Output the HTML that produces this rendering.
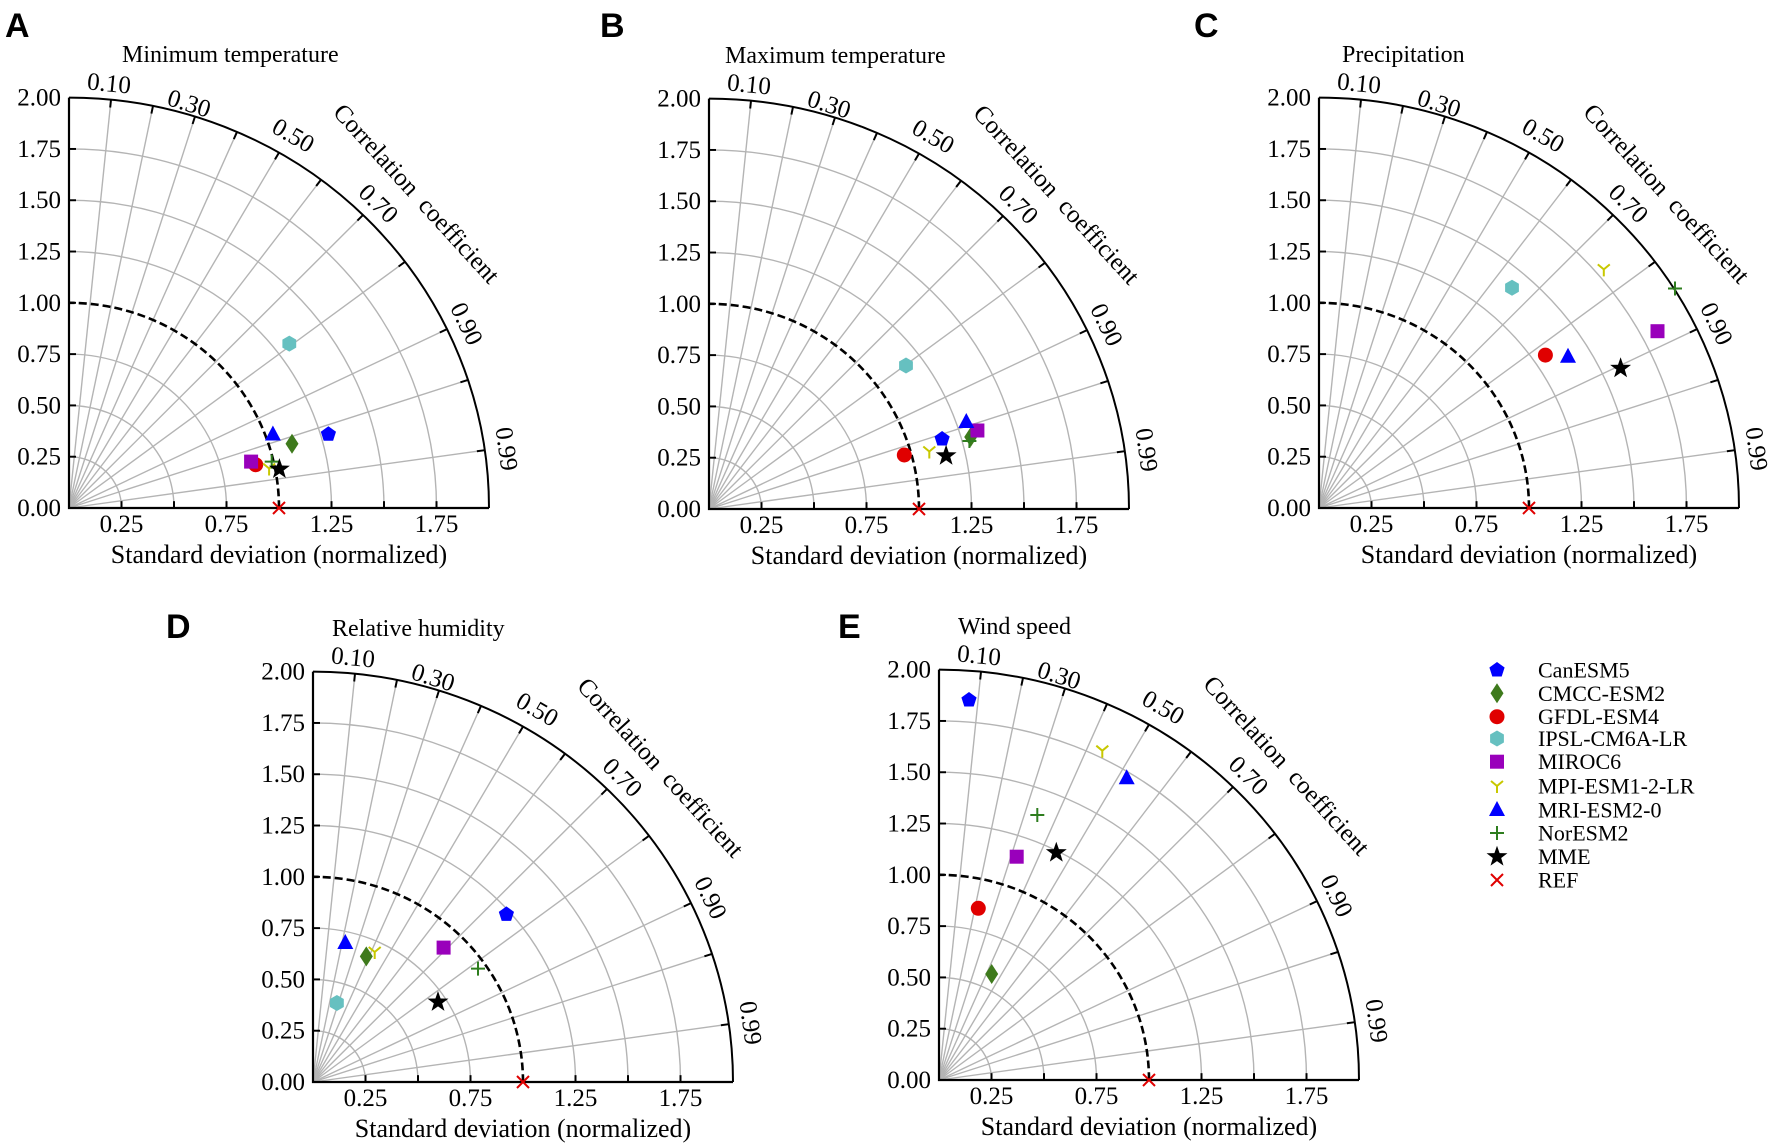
<!DOCTYPE html>
<html><head><meta charset="utf-8"><style>
html,body{margin:0;padding:0;background:#fff}
svg{display:block}
text{font-family:"Liberation Serif",serif;fill:#000}
.t{font-size:24px}
.yl{font-size:25px;text-anchor:end}
.xl{font-size:25px;text-anchor:middle}
.xt{font-size:26px;text-anchor:middle}
.cl{font-size:25px;text-anchor:middle;dominant-baseline:central}
.lt{font-family:"Liberation Sans",sans-serif;font-weight:bold;font-size:34px}
.lg{font-size:22px;dominant-baseline:central}
</style></head><body>
<svg width="1772" height="1146" viewBox="0 0 1772 1146" xmlns="http://www.w3.org/2000/svg">
<defs>
<g id="grid0" fill="none">
 <g stroke="#b4b4b4" stroke-width="1.4">
  <path d="M52.5,0 A52.5,52.5 0 0 0 0,-52.5"/>
  <path d="M105,0 A105,105 0 0 0 0,-105"/>
  <path d="M157.5,0 A157.5,157.5 0 0 0 0,-157.5"/>
  <path d="M262.5,0 A262.5,262.5 0 0 0 0,-262.5"/>
  <path d="M315,0 A315,315 0 0 0 0,-315"/>
  <path d="M367.5,0 A367.5,367.5 0 0 0 0,-367.5"/>
  <line x1="0" y1="0" x2="42" y2="-417.9"/>
  <line x1="0" y1="0" x2="84" y2="-411.5"/>
  <line x1="0" y1="0" x2="126" y2="-400.7"/>
  <line x1="0" y1="0" x2="168" y2="-384.9"/>
  <line x1="0" y1="0" x2="210" y2="-363.7"/>
  <line x1="0" y1="0" x2="252" y2="-336"/>
  <line x1="0" y1="0" x2="294" y2="-299.9"/>
  <line x1="0" y1="0" x2="336" y2="-252"/>
  <line x1="0" y1="0" x2="378" y2="-183.1"/>
  <line x1="0" y1="0" x2="399" y2="-131.1"/>
  <line x1="0" y1="0" x2="415.8" y2="-59.2"/>
 </g>
 <g stroke="#000" stroke-width="2" stroke-dasharray="0,412,10">
  <line x1="0" y1="0" x2="42" y2="-417.9"/>
  <line x1="0" y1="0" x2="84" y2="-411.5"/>
  <line x1="0" y1="0" x2="126" y2="-400.7"/>
  <line x1="0" y1="0" x2="168" y2="-384.9"/>
  <line x1="0" y1="0" x2="210" y2="-363.7"/>
  <line x1="0" y1="0" x2="252" y2="-336"/>
  <line x1="0" y1="0" x2="294" y2="-299.9"/>
  <line x1="0" y1="0" x2="336" y2="-252"/>
  <line x1="0" y1="0" x2="378" y2="-183.1"/>
  <line x1="0" y1="0" x2="399" y2="-131.1"/>
  <line x1="0" y1="0" x2="415.8" y2="-59.2"/>
 </g>
 <path d="M210,0 A210,210 0 0 0 0,-210" stroke="#000" stroke-width="2.6" stroke-dasharray="8,4"/>
 <path d="M420,0 A420,420 0 0 0 0,-420" stroke="#000" stroke-width="2"/>
 <path d="M0,-420 L0,0 L420,0" stroke="#000" stroke-width="2.2"/>
 <g stroke="#000" stroke-width="2">
  <line x1="0" y1="-52.5" x2="7" y2="-52.5"/><line x1="0" y1="-105" x2="7" y2="-105"/>
  <line x1="0" y1="-157.5" x2="7" y2="-157.5"/><line x1="0" y1="-210" x2="7" y2="-210"/>
  <line x1="0" y1="-262.5" x2="7" y2="-262.5"/><line x1="0" y1="-315" x2="7" y2="-315"/>
  <line x1="0" y1="-367.5" x2="7" y2="-367.5"/>
  <line x1="52.5" y1="0" x2="52.5" y2="-7"/><line x1="105" y1="0" x2="105" y2="-7"/>
  <line x1="157.5" y1="0" x2="157.5" y2="-7"/><line x1="210" y1="0" x2="210" y2="-7"/>
  <line x1="262.5" y1="0" x2="262.5" y2="-7"/><line x1="315" y1="0" x2="315" y2="-7"/>
  <line x1="367.5" y1="0" x2="367.5" y2="-7"/>
 </g>
</g>
<g id="grid"><use href="#grid0" transform="scale(1,0.977)"/></g>
<g id="corr">
<text class="cl" transform="translate(40,-424) rotate(5.7)">0.10</text>
<text class="cl" transform="translate(120,-404) rotate(17.5)">0.30</text>
<text class="cl" transform="translate(224,-372) rotate(30)">0.50</text>
<text class="cl" transform="translate(309,-304) rotate(44.4)">0.70</text>
<text class="cl" transform="translate(397,-184) rotate(64.2)">0.90</text>
<text class="cl" transform="translate(437,-59) rotate(81.9)">0.99</text>
</g>
<polygon id="can" points="0,-8 7.6,-2.5 4.7,6.5 -4.7,6.5 -7.6,-2.5" fill="#0000ff"/>
<polygon id="cmcc" points="0,-10 6.5,0 0,10 -6.5,0" fill="#3e7a1c"/>
<circle id="gfdl" r="7.5" fill="#e00000"/>
<polygon id="ipsl" points="0,-8 6.9,-4 6.9,4 0,8 -6.9,4 -6.9,-4" fill="#66c0c0"/>
<rect id="miroc" x="-7" y="-7" width="14" height="14" fill="#9900bb"/>
<g id="mpi" stroke="#c8c800" stroke-width="2" fill="none"><path d="M0,0 L0,7 M0,0 L-6,-5 M0,0 L6,-5"/></g>
<polygon id="mri" points="0,-9 8,6 -8,6" fill="#0000ff"/>
<g id="nor" stroke="#2e7d1e" stroke-width="2"><path d="M-7,0 H7 M0,-7 V7"/></g>
<polygon id="mme" points="0,-11 2.59,-3.56 10.46,-3.4 4.18,1.36 6.47,8.9 0,4.4 -6.47,8.9 -4.18,1.36 -10.46,-3.4 -2.59,-3.56" fill="#000"/>
<g id="ref" stroke="#e00000" stroke-width="2"><path d="M-6,-6 L6,6 M-6,6 L6,-6"/></g>
</defs>

<text class="lt" x="5" y="37">A</text>
<text class="lt" x="600" y="37">B</text>
<text class="lt" x="1194" y="37">C</text>
<text class="lt" x="166" y="638">D</text>
<text class="lt" x="838" y="638">E</text>

<!-- Panel A -->
<g transform="translate(69,508)">
<use href="#grid"/>
<text class="t" x="53" y="-446">Minimum temperature</text>
<text class="yl" x="-8" y="8">0.00</text><text class="yl" x="-8" y="-43.3">0.25</text><text class="yl" x="-8" y="-94.6">0.50</text><text class="yl" x="-8" y="-145.9">0.75</text><text class="yl" x="-8" y="-197.2">1.00</text><text class="yl" x="-8" y="-248.5">1.25</text><text class="yl" x="-8" y="-299.8">1.50</text><text class="yl" x="-8" y="-351.1">1.75</text><text class="yl" x="-8" y="-402.4">2.00</text>
<text class="xl" x="52.5" y="24">0.25</text><text class="xl" x="157.5" y="24">0.75</text><text class="xl" x="262.5" y="24">1.25</text><text class="xl" x="367.5" y="24">1.75</text>
<text class="xt" x="210" y="55">Standard deviation (normalized)</text>
<text class="cl" transform="translate(40,-424) rotate(5.7)">0.10</text>
<text class="cl" transform="translate(120,-404) rotate(17.5)">0.30</text>
<text class="cl" transform="translate(224,-372) rotate(30)">0.50</text>
<text class="cl" transform="translate(309,-304) rotate(44.4)">0.70</text>
<text class="cl" transform="translate(397,-184) rotate(64.2)">0.90</text>
<text class="cl" transform="translate(437,-59) rotate(81.9)">0.99</text>
<text class="cl" xml:space="preserve" transform="translate(347,-314) rotate(47.6)">Correlation  coefficient</text>
<use href="#can" x="259.4" y="-73.7"/><use href="#cmcc" x="223" y="-64.3"/><use href="#gfdl" x="186.7" y="-43.3"/><use href="#ipsl" x="220.3" y="-164.4"/><use href="#miroc" x="182.1" y="-46.4"/><use href="#mpi" x="200.1" y="-39.5"/><use href="#mri" x="203.9" y="-73.5"/><use href="#nor" x="202.7" y="-46.4"/><use href="#mme" x="210.4" y="-38.9"/><use href="#ref" x="210" y="0"/>
</g>

<!-- Panel B -->
<g transform="translate(709,509)">
<use href="#grid"/>
<text class="t" x="16" y="-446">Maximum temperature</text>
<text class="yl" x="-8" y="8">0.00</text><text class="yl" x="-8" y="-43.3">0.25</text><text class="yl" x="-8" y="-94.6">0.50</text><text class="yl" x="-8" y="-145.9">0.75</text><text class="yl" x="-8" y="-197.2">1.00</text><text class="yl" x="-8" y="-248.5">1.25</text><text class="yl" x="-8" y="-299.8">1.50</text><text class="yl" x="-8" y="-351.1">1.75</text><text class="yl" x="-8" y="-402.4">2.00</text>
<text class="xl" x="52.5" y="24">0.25</text><text class="xl" x="157.5" y="24">0.75</text><text class="xl" x="262.5" y="24">1.25</text><text class="xl" x="367.5" y="24">1.75</text>
<text class="xt" x="210" y="55">Standard deviation (normalized)</text>
<text class="cl" transform="translate(40,-424) rotate(5.7)">0.10</text>
<text class="cl" transform="translate(120,-404) rotate(17.5)">0.30</text>
<text class="cl" transform="translate(224,-372) rotate(30)">0.50</text>
<text class="cl" transform="translate(309,-304) rotate(44.4)">0.70</text>
<text class="cl" transform="translate(397,-184) rotate(64.2)">0.90</text>
<text class="cl" transform="translate(437,-59) rotate(81.9)">0.99</text>
<text class="cl" xml:space="preserve" transform="translate(347,-314) rotate(47.6)">Correlation  coefficient</text>
<use href="#can" x="233.1" y="-70"/><use href="#cmcc" x="261.7" y="-72"/><use href="#gfdl" x="195.3" y="-54"/><use href="#ipsl" x="197" y="-143.5"/><use href="#miroc" x="268.4" y="-78.5"/><use href="#mpi" x="220.3" y="-57.5"/><use href="#mri" x="257.3" y="-87"/><use href="#nor" x="260.4" y="-68"/><use href="#mme" x="237.1" y="-53.2"/><use href="#ref" x="210" y="0"/>
</g>

<!-- Panel C -->
<g transform="translate(1319,508)">
<use href="#grid"/>
<text class="t" x="23" y="-446">Precipitation</text>
<text class="yl" x="-8" y="8">0.00</text><text class="yl" x="-8" y="-43.3">0.25</text><text class="yl" x="-8" y="-94.6">0.50</text><text class="yl" x="-8" y="-145.9">0.75</text><text class="yl" x="-8" y="-197.2">1.00</text><text class="yl" x="-8" y="-248.5">1.25</text><text class="yl" x="-8" y="-299.8">1.50</text><text class="yl" x="-8" y="-351.1">1.75</text><text class="yl" x="-8" y="-402.4">2.00</text>
<text class="xl" x="52.5" y="24">0.25</text><text class="xl" x="157.5" y="24">0.75</text><text class="xl" x="262.5" y="24">1.25</text><text class="xl" x="367.5" y="24">1.75</text>
<text class="xt" x="210" y="55">Standard deviation (normalized)</text>
<text class="cl" transform="translate(40,-424) rotate(5.7)">0.10</text>
<text class="cl" transform="translate(120,-404) rotate(17.5)">0.30</text>
<text class="cl" transform="translate(224,-372) rotate(30)">0.50</text>
<text class="cl" transform="translate(309,-304) rotate(44.4)">0.70</text>
<text class="cl" transform="translate(397,-184) rotate(64.2)">0.90</text>
<text class="cl" transform="translate(437,-59) rotate(81.9)">0.99</text>
<text class="cl" xml:space="preserve" transform="translate(347,-314) rotate(47.6)">Correlation  coefficient</text>
<use href="#gfdl" x="226.4" y="-152.9"/><use href="#ipsl" x="193" y="-220.3"/><use href="#miroc" x="338.5" y="-176.8"/><use href="#mpi" x="284.8" y="-238.6"/><use href="#mri" x="249" y="-151.2"/><use href="#nor" x="356" y="-219.5"/><use href="#mme" x="301.6" y="-139.7"/><use href="#ref" x="210" y="0"/>
</g>

<!-- Panel D -->
<g transform="translate(313,1082)">
<use href="#grid"/>
<text class="t" x="19" y="-446">Relative humidity</text>
<text class="yl" x="-8" y="8">0.00</text><text class="yl" x="-8" y="-43.3">0.25</text><text class="yl" x="-8" y="-94.6">0.50</text><text class="yl" x="-8" y="-145.9">0.75</text><text class="yl" x="-8" y="-197.2">1.00</text><text class="yl" x="-8" y="-248.5">1.25</text><text class="yl" x="-8" y="-299.8">1.50</text><text class="yl" x="-8" y="-351.1">1.75</text><text class="yl" x="-8" y="-402.4">2.00</text>
<text class="xl" x="52.5" y="24">0.25</text><text class="xl" x="157.5" y="24">0.75</text><text class="xl" x="262.5" y="24">1.25</text><text class="xl" x="367.5" y="24">1.75</text>
<text class="xt" x="210" y="55">Standard deviation (normalized)</text>
<text class="cl" transform="translate(40,-424) rotate(5.7)">0.10</text>
<text class="cl" transform="translate(120,-404) rotate(17.5)">0.30</text>
<text class="cl" transform="translate(224,-372) rotate(30)">0.50</text>
<text class="cl" transform="translate(309,-304) rotate(44.4)">0.70</text>
<text class="cl" transform="translate(397,-184) rotate(64.2)">0.90</text>
<text class="cl" transform="translate(437,-59) rotate(81.9)">0.99</text>
<text class="cl" xml:space="preserve" transform="translate(347,-314) rotate(47.6)">Correlation  coefficient</text>
<use href="#can" x="193.4" y="-167.6"/><use href="#cmcc" x="53.3" y="-125.6"/><use href="#ipsl" x="23.9" y="-79"/><use href="#miroc" x="130.6" y="-134.4"/><use href="#mpi" x="61.7" y="-130"/><use href="#mri" x="32.3" y="-139"/><use href="#nor" x="165" y="-113.4"/><use href="#mme" x="125" y="-80"/><use href="#ref" x="210" y="0"/>
</g>

<!-- Panel E -->
<g transform="translate(939,1080)">
<use href="#grid"/>
<text class="t" x="19" y="-446">Wind speed</text>
<text class="yl" x="-8" y="8">0.00</text><text class="yl" x="-8" y="-43.3">0.25</text><text class="yl" x="-8" y="-94.6">0.50</text><text class="yl" x="-8" y="-145.9">0.75</text><text class="yl" x="-8" y="-197.2">1.00</text><text class="yl" x="-8" y="-248.5">1.25</text><text class="yl" x="-8" y="-299.8">1.50</text><text class="yl" x="-8" y="-351.1">1.75</text><text class="yl" x="-8" y="-402.4">2.00</text>
<text class="xl" x="52.5" y="24">0.25</text><text class="xl" x="157.5" y="24">0.75</text><text class="xl" x="262.5" y="24">1.25</text><text class="xl" x="367.5" y="24">1.75</text>
<text class="xt" x="210" y="55">Standard deviation (normalized)</text>
<text class="cl" transform="translate(40,-424) rotate(5.7)">0.10</text>
<text class="cl" transform="translate(120,-404) rotate(17.5)">0.30</text>
<text class="cl" transform="translate(224,-372) rotate(30)">0.50</text>
<text class="cl" transform="translate(309,-304) rotate(44.4)">0.70</text>
<text class="cl" transform="translate(397,-184) rotate(64.2)">0.90</text>
<text class="cl" transform="translate(437,-59) rotate(81.9)">0.99</text>
<text class="cl" xml:space="preserve" transform="translate(347,-314) rotate(47.6)">Correlation  coefficient</text>
<use href="#can" x="30" y="-380"/><use href="#cmcc" x="52.7" y="-106"/><use href="#gfdl" x="39.3" y="-171.7"/><use href="#miroc" x="77.7" y="-223.3"/><use href="#mpi" x="163.3" y="-329.3"/><use href="#mri" x="187.7" y="-301.7"/><use href="#nor" x="98.3" y="-265"/><use href="#mme" x="117.3" y="-227.3"/><use href="#ref" x="210" y="0"/>
</g>

<use href="#can" x="1497" y="670"/><text class="lg" x="1538" y="670">CanESM5</text>
<use href="#cmcc" x="1497" y="693.3"/><text class="lg" x="1538" y="693.3">CMCC-ESM2</text>
<use href="#gfdl" x="1497" y="716.7"/><text class="lg" x="1538" y="716.7">GFDL-ESM4</text>
<use href="#ipsl" x="1497" y="738.5"/><text class="lg" x="1538" y="738.5">IPSL-CM6A-LR</text>
<use href="#miroc" x="1497" y="761.7"/><text class="lg" x="1538" y="761.7">MIROC6</text>
<use href="#mpi" x="1497" y="786"/><text class="lg" x="1538" y="786">MPI-ESM1-2-LR</text>
<use href="#mri" x="1497" y="810"/><text class="lg" x="1538" y="810">MRI-ESM2-0</text>
<use href="#nor" x="1497" y="833"/><text class="lg" x="1538" y="833">NorESM2</text>
<use href="#mme" x="1497" y="856.7"/><text class="lg" x="1538" y="856.7">MME</text>
<use href="#ref" x="1497" y="880"/><text class="lg" x="1538" y="880">REF</text>
</svg>
</body></html>
